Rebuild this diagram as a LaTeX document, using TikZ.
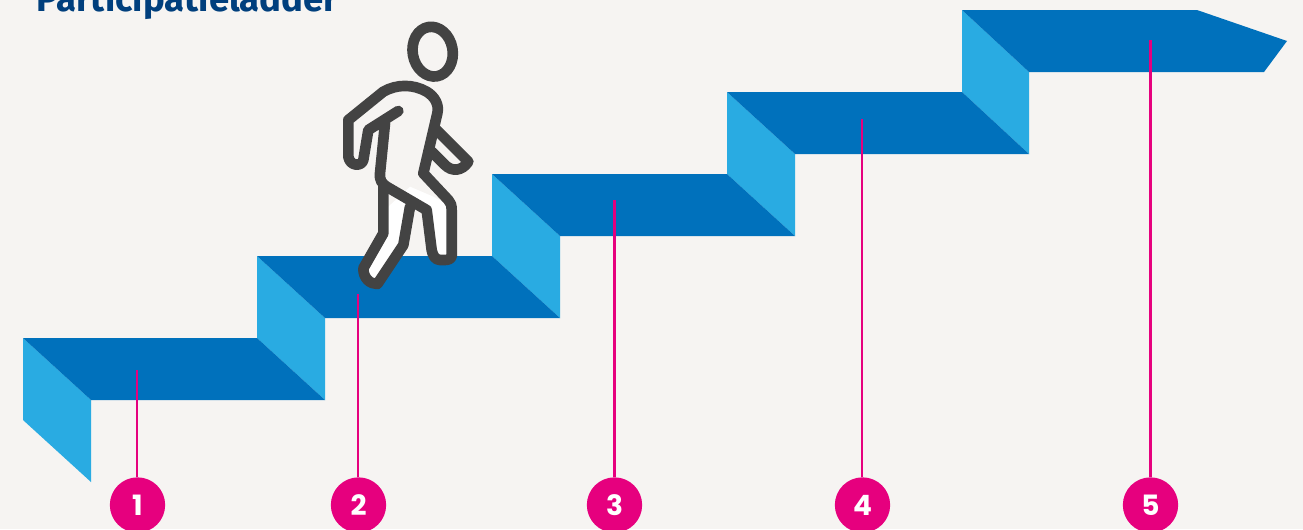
\documentclass[tikz,border=0pt]{standalone}
\usepackage{fontspec}
\setmainfont{Fira Sans}[BoldFont={Fira Sans Bold}]
\newfontfamily\numfont{Poppins}[BoldFont={Poppins Bold}]
\definecolor{bgc}{HTML}{F6F4F2}
\definecolor{topc}{HTML}{0071BC}
\definecolor{sidec}{HTML}{29ABE2}
\definecolor{pinkc}{HTML}{E6007E}
\definecolor{titlec}{HTML}{003F7D}
\definecolor{figc}{HTML}{434343}
\tikzset{
  tread/.style={fill=topc,draw=none},
  riser/.style={fill=sidec,draw=none},
  badge/.style={circle,fill=pinkc,text=white,minimum size=41.5pt,inner sep=0pt,font=\numfont\bfseries\fontsize{21}{21}\selectfont},
  leader/.style={draw=pinkc,line width=2.2pt},
  figline/.style={draw=figc,line width=8pt,line join=round,line cap=round},
}
\begin{document}
\begin{tikzpicture}[x=0.75pt,y=0.75pt]
\useasboundingbox (0,0) rectangle (1303,-529);
\clip (0,0) rectangle (1303,-529);
\fill[bgc] (0,0) rectangle (1303,-529);
\node[anchor=base west,inner sep=0pt,text=titlec,font=\bfseries\fontsize{27.4}{27.4}\selectfont] (title) at (36,-11.5) {Participatieladder};
% risers
\fill[riser] (23,-338) -- (91,-400) -- (91,-482) -- (23,-420) -- cycle;
\fill[riser] (257,-256) -- (325,-318) -- (325,-400) -- (257,-338) -- cycle;
\fill[riser] (492,-174) -- (560,-236) -- (560,-318) -- (492,-256) -- cycle;
\fill[riser] (727,-92) -- (795,-154) -- (795,-236) -- (727,-174) -- cycle;
\fill[riser] (962,-10) -- (1029,-72) -- (1029,-154) -- (962,-92) -- cycle;
% treads
\fill[tread] (23,-338) -- (257,-338) -- (325,-400) -- (91,-400) -- cycle;
\fill[tread] (257,-256) -- (492,-256) -- (560,-318) -- (325,-318) -- cycle;
\fill[tread] (492,-174) -- (727,-174) -- (795,-236) -- (560,-236) -- cycle;
\fill[tread] (727,-92) -- (962,-92) -- (1029,-154) -- (795,-154) -- cycle;
\fill[tread] (962,-10) -- (1197,-10) -- (1287,-41) -- (1264,-72) -- (1029,-72) -- cycle;
% badges and leaders
\node[badge] (n1) at (137.5,-505) {1};
\node[badge] (n2) at (358.5,-505) {2};
\node[badge] (n3) at (614.5,-505) {3};
\node[badge] (n4) at (862.5,-505) {4};
\node[badge] (n5) at (1150.5,-505) {5};
\coordinate (t1) at (137,-370);
\coordinate (t2) at (358,-294);
\coordinate (t3) at (614.5,-200);
\coordinate (t4) at (862,-119);
\coordinate (t5) at (1150.5,-40);
\draw[leader] (t1) -- (t1 |- n1.north);
\draw[leader] (t2) -- (t2 |- n2.north);
\draw[leader] (t3) -- (t3 |- n3.north);
\draw[leader] (t4) -- (t4 |- n4.north);
\draw[leader] (t5) -- (t5 |- n5.north);
% walking figure
\begin{scope}[shift={(320,-10)},x=0.25pt,y=-0.25pt]
\fill[white] (270,530) -- (340,560) -- (395,590) -- (395,740) -- (340,730) -- (320,600) -- (270,590) -- (250,700) -- (170,820) -- (130,770) -- (190,670) -- (205,590) -- cycle;
\draw[figline] (338,125) ellipse[x radius=60,y radius=75,rotate=10];
\draw[figline] (350,360) -- (445,455) .. controls (425,485) and (395,485) .. (375,465) -- (335,425);
\draw[figline] (190,530) -- (190,670) -- (130,775) .. controls (130,805) and (150,822) .. (172,822) -- (250,705) -- (270,590);
\draw[figline] (235,303) -- (145,360) -- (130,450) .. controls (125,470) and (90,470) .. (85,440) -- (85,330) -- (190,245) .. controls (230,222) and (280,222) .. (320,245) .. controls (345,260) and (358,285) .. (352,310) -- (310,490) -- (385,570) .. controls (392,578) and (395,585) .. (395,600) -- (395,740) .. controls (390,752) and (375,750) .. (360,750) .. controls (345,750) and (338,735) .. (335,720) -- (320,600) -- (200,530) .. controls (185,520) and (178,510) .. (180,490) -- (195,340);
\end{scope}
\end{tikzpicture}
\end{document}
